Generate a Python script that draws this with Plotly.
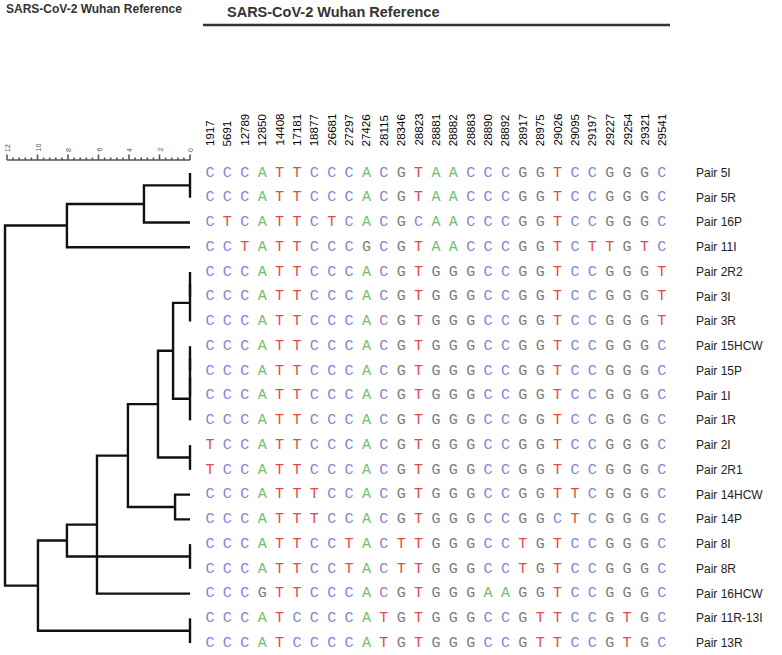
import plotly.graph_objects as go

# ---------------- data ----------------
title_text = "SARS-CoV-2 Wuhan Reference"

positions = ["1917", "5691", "12789", "12850", "14408", "17181", "18877", "26681",
             "27297", "27426", "28115", "28346", "28823", "28881", "28882", "28883",
             "28890", "28892", "28917", "28975", "29026", "29095", "29197", "29227",
             "29254", "29321", "29541"]

samples = ["Pair 5I", "Pair 5R", "Pair 16P", "Pair 11I", "Pair 2R2", "Pair 3I", "Pair 3R",
           "Pair 15HCW", "Pair 15P", "Pair 1I", "Pair 1R", "Pair 2I", "Pair 2R1",
           "Pair 14HCW", "Pair 14P", "Pair 8I", "Pair 8R", "Pair 16HCW",
           "Pair 11R-13I", "Pair 13R"]

sequences = [
    "CCCATTCCCACGTAACCCGGTCCGGGC",
    "CCCATTCCCACGTAACCCGGTCCGGGC",
    "CTCATTCTCACGCAACCCGGTCCGGGC",
    "CCTATTCCCGCGTAACCCGGTCTTGTC",
    "CCCATTCCCACGTGGGCCGGTCCGGGT",
    "CCCATTCCCACGTGGGCCGGTCCGGGT",
    "CCCATTCCCACGTGGGCCGGTCCGGGT",
    "CCCATTCCCACGTGGGCCGGTCCGGGC",
    "CCCATTCCCACGTGGGCCGGTCCGGGC",
    "CCCATTCCCACGTGGGCCGGTCCGGGC",
    "CCCATTCCCACGTGGGCCGGTCCGGGC",
    "TCCATTCCCACGTGGGCCGGTCCGGGC",
    "TCCATTCCCACGTGGGCCGGTCCGGGC",
    "CCCATTTCCACGTGGGCCGGTTCGGGC",
    "CCCATTTCCACGTGGGCCGGCTCGGGC",
    "CCCATTCCTACTTGGGCCTGTCCGGGC",
    "CCCATTCCTACTTGGGCCTGTCCGGGC",
    "CCCGTTCCCACGTGGGAAGGTCCGGGC",
    "CCCATCCCCATGTGGGCCGTTCCGTGC",
    "CCCATCCCCATGTGGGCCGTTCCGTGC",
]

# dendrogram merges: (child a, child b, height); leaves are 0..19, new nodes 20..
merges = [
    (0, 1, 0.0),      # 20
    (20, 2, 3.02),    # 21
    (21, 3, 8.07),    # 22
    (4, 5, 0.0),      # 23
    (23, 6, 0.0),     # 24
    (7, 8, 0.0),      # 25
    (25, 9, 0.0),     # 26
    (26, 10, 0.0),    # 27
    (24, 27, 1.11),   # 28
    (11, 12, 0.0),    # 29
    (28, 29, 2.1),    # 30
    (13, 14, 0.98),   # 31
    (30, 31, 4.07),   # 32
    (32, 17, 6.1),    # 33
    (15, 16, 0.0),    # 34
    (33, 34, 8.07),   # 35
    (18, 19, 0.0),    # 36
    (35, 36, 9.97),   # 37
    (22, 37, 12.13),  # 38 root
]

scale_labels = [0, 2, 4, 6, 8, 10, 12]

base_colors = {"A": "#6fbf6f", "C": "#8585d6", "G": "#7c7c7c", "T": "#e24a4a"}

# ---------------- layout geometry ----------------
W, H = 782, 655
row0_px, row_step = 173.0, 24.74
col0_px, col_step = 210.0, 17.38
d0_px, d_step = 190.0, 15.25

def row_of(px):
    return (px - row0_px) / row_step

fig = go.Figure()

# ---- dendrogram ----
n = len(samples)
node_y = {i: float(i) for i in range(n)}
node_h = {i: 0.0 for i in range(n)}
dx, dy = [], []
for k, (a, b, h) in enumerate(merges):
    idx = n + k
    ya, yb = node_y[a], node_y[b]
    dx += [node_h[a], h, h, node_h[b], None]
    dy += [ya, ya, yb, yb, None]
    node_y[idx] = (ya + yb) / 2
    node_h[idx] = h

fig.add_trace(go.Scatter(x=dx, y=dy, mode="lines",
                         line=dict(color="#111111", width=2.4),
                         hoverinfo="skip", showlegend=False, xaxis="x", yaxis="y"))

# ---- scale bar ----
bar_y = row_of(160)
sx, sy = [max(scale_labels), 0, None], [bar_y, bar_y, None]
minor_step = 0.4
t = 0.0
while t <= max(scale_labels) + 1e-9:
    is_major = abs(t / 2 - round(t / 2)) < 1e-6
    length = 5.5 if is_major else 2.5
    sx += [t, t, None]
    sy += [bar_y, bar_y - length / row_step, None]
    t += minor_step
fig.add_trace(go.Scatter(x=sx, y=sy, mode="lines",
                         line=dict(color="#555555", width=1.6),
                         hoverinfo="skip", showlegend=False, xaxis="x", yaxis="y"))
for v in scale_labels:
    fig.add_annotation(x=v, y=row_of(154), xref="x", yref="y", text=str(v),
                       textangle=-90, showarrow=False, xanchor="center", yanchor="bottom",
                       font=dict(family="Liberation Sans", size=7, color="#555555"))

# ---- sequence grid ----
gx, gy, gt, gc = [], [], [], []
for r, seq in enumerate(sequences):
    for c, ch in enumerate(seq):
        gx.append(c)
        gy.append(r)
        gt.append(ch)
        gc.append(base_colors[ch])
fig.add_trace(go.Scatter(x=gx, y=gy, mode="text", text=gt,
                         textposition="middle center",
                         textfont=dict(family="Liberation Mono", size=15, color=gc),
                         hoverinfo="skip", showlegend=False, xaxis="x2", yaxis="y"))

# column labels
for c, p in enumerate(positions):
    fig.add_annotation(x=c, y=row_of(148), xref="x2", yref="y", text=p,
                       textangle=-90, showarrow=False, xanchor="center", yanchor="bottom",
                       font=dict(family="Liberation Sans", size=11.5, color="#000000"))

# row labels
for r, s in enumerate(samples):
    fig.add_annotation(x=694 / W, y=r, xref="paper", yref="y", text=s,
                       showarrow=False, xanchor="left", yanchor="middle",
                       font=dict(family="Liberation Sans", size=12, color="#222222"))

# titles
fig.add_annotation(x=333 / W, y=1 - 12 / H, xref="paper", yref="paper",
                   text="<b>" + title_text + "</b>", showarrow=False,
                   xanchor="center", yanchor="middle",
                   font=dict(family="Liberation Sans", size=14.5, color="#333333"))
fig.add_annotation(x=4 / W, y=1 - 9 / H, xref="paper", yref="paper",
                   text="<b>" + title_text + "</b>", showarrow=False,
                   xanchor="left", yanchor="middle",
                   font=dict(family="Liberation Sans", size=12, color="#333333"))
fig.add_shape(type="line", xref="paper", yref="paper",
              x0=203 / W, x1=670 / W, y0=1 - 25 / H, y1=1 - 25 / H,
              line=dict(color="#333333", width=2.5))

fig.update_layout(
    width=W, height=H,
    margin=dict(l=0, r=0, t=0, b=0, pad=0),
    paper_bgcolor="white", plot_bgcolor="white",
    xaxis=dict(range=[d0_px / d_step, (d0_px - W) / d_step], visible=False,
               domain=[0, 1], fixedrange=True),
    xaxis2=dict(range=[-col0_px / col_step, (W - col0_px) / col_step], visible=False,
                overlaying="x", anchor="y", fixedrange=True),
    yaxis=dict(range=[(H - row0_px) / row_step, -row0_px / row_step], visible=False,
               domain=[0, 1], fixedrange=True),
    showlegend=False,
)

fig.write_html("out.html", config={"displayModeBar": False},
               post_script="document.body.style.margin='0';")
